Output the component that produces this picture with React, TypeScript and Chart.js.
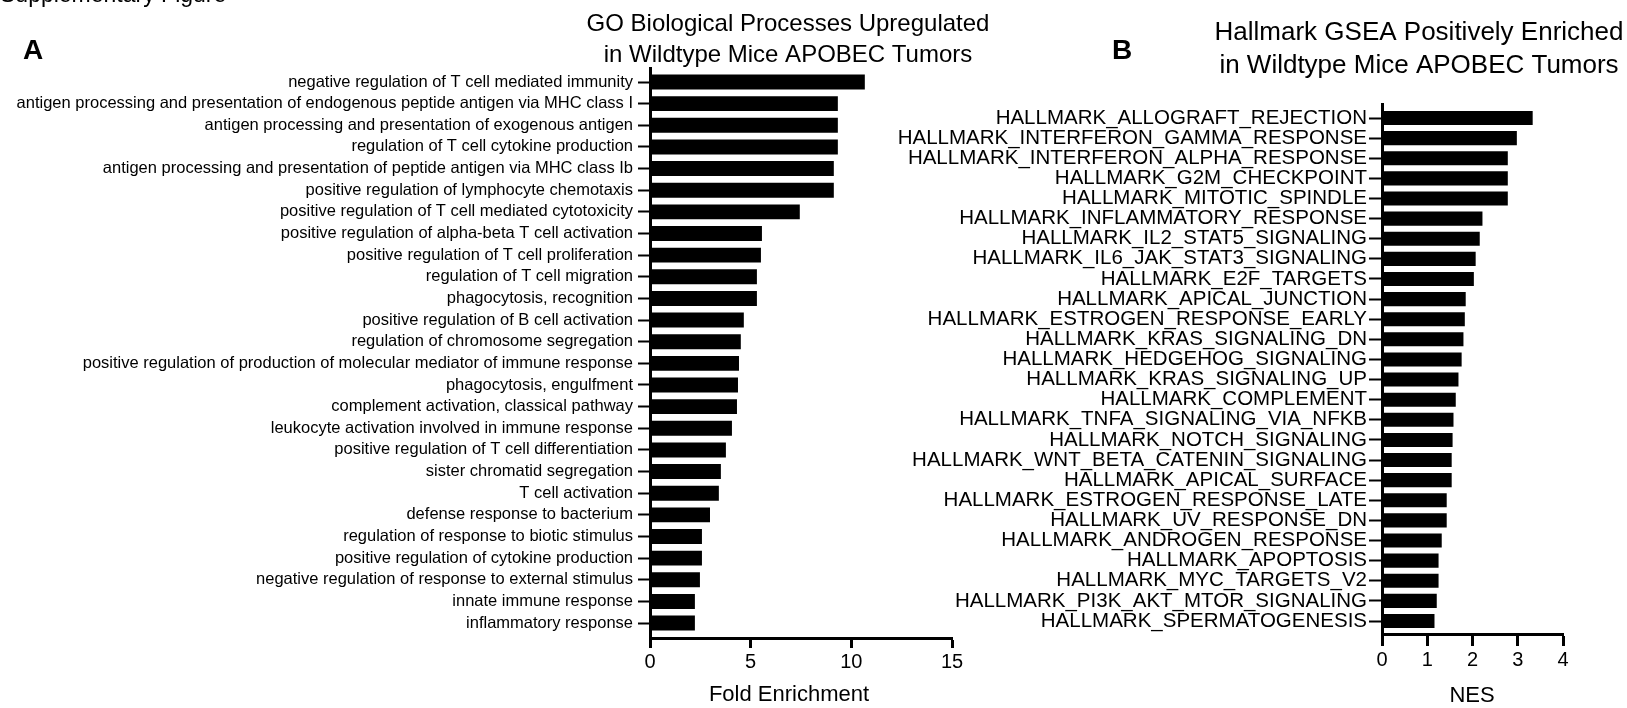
import { useEffect, useRef } from 'react';
import { Chart, registerables } from 'chart.js';

Chart.register(...registerables);

const FONT = "'Liberation Sans', Arial, Helvetica, sans-serif";

const goTerms = [
  'negative regulation of T cell mediated immunity',
  'antigen processing and presentation of endogenous peptide antigen via MHC class I',
  'antigen processing and presentation of exogenous antigen',
  'regulation of T cell cytokine production',
  'antigen processing and presentation of peptide antigen via MHC class Ib',
  'positive regulation of lymphocyte chemotaxis',
  'positive regulation of T cell mediated cytotoxicity',
  'positive regulation of alpha-beta T cell activation',
  'positive regulation of T cell proliferation',
  'regulation of T cell migration',
  'phagocytosis, recognition',
  'positive regulation of B cell activation',
  'regulation of chromosome segregation',
  'positive regulation of production of molecular mediator of immune response',
  'phagocytosis, engulfment',
  'complement activation, classical pathway',
  'leukocyte activation involved in immune response',
  'positive regulation of T cell differentiation',
  'sister chromatid segregation',
  'T cell activation',
  'defense response to bacterium',
  'regulation of response to biotic stimulus',
  'positive regulation of cytokine production',
  'negative regulation of response to external stimulus',
  'innate immune response',
  'inflammatory response',
];

const goFold = [
  10.67, 9.33, 9.33, 9.33, 9.13, 9.13, 7.44, 5.56, 5.51, 5.31, 5.31, 4.66, 4.51,
  4.42, 4.37, 4.32, 4.07, 3.77, 3.52, 3.42, 2.98, 2.58, 2.58, 2.48, 2.23, 2.23,
];

const goTicks = [0, 5, 10, 15];

const hallmarkTerms = [
  'HALLMARK_ALLOGRAFT_REJECTION',
  'HALLMARK_INTERFERON_GAMMA_RESPONSE',
  'HALLMARK_INTERFERON_ALPHA_RESPONSE',
  'HALLMARK_G2M_CHECKPOINT',
  'HALLMARK_MITOTIC_SPINDLE',
  'HALLMARK_INFLAMMATORY_RESPONSE',
  'HALLMARK_IL2_STAT5_SIGNALING',
  'HALLMARK_IL6_JAK_STAT3_SIGNALING',
  'HALLMARK_E2F_TARGETS',
  'HALLMARK_APICAL_JUNCTION',
  'HALLMARK_ESTROGEN_RESPONSE_EARLY',
  'HALLMARK_KRAS_SIGNALING_DN',
  'HALLMARK_HEDGEHOG_SIGNALING',
  'HALLMARK_KRAS_SIGNALING_UP',
  'HALLMARK_COMPLEMENT',
  'HALLMARK_TNFA_SIGNALING_VIA_NFKB',
  'HALLMARK_NOTCH_SIGNALING',
  'HALLMARK_WNT_BETA_CATENIN_SIGNALING',
  'HALLMARK_APICAL_SURFACE',
  'HALLMARK_ESTROGEN_RESPONSE_LATE',
  'HALLMARK_UV_RESPONSE_DN',
  'HALLMARK_ANDROGEN_RESPONSE',
  'HALLMARK_APOPTOSIS',
  'HALLMARK_MYC_TARGETS_V2',
  'HALLMARK_PI3K_AKT_MTOR_SIGNALING',
  'HALLMARK_SPERMATOGENESIS',
];

const hallmarkNES = [
  3.33, 2.98, 2.78, 2.78, 2.78, 2.22, 2.16, 2.07, 2.03, 1.85, 1.83, 1.8, 1.76,
  1.69, 1.63, 1.58, 1.56, 1.54, 1.54, 1.43, 1.43, 1.32, 1.25, 1.25, 1.21, 1.16,
];

const hallmarkTicks = [0, 1, 2, 3, 4];

const leftTitle = ['GO Biological Processes Upregulated', 'in Wildtype Mice APOBEC Tumors'];
const rightTitle = ['Hallmark GSEA Positively Enriched', 'in Wildtype Mice APOBEC Tumors'];

type TextItem = {
  text: string;
  x: number;
  y: number;
  size: number;
  bold?: boolean;
  align?: CanvasTextAlign;
};

function textPlugin(items: TextItem[]) {
  return {
    id: 'extraText',
    afterDraw(chart: any) {
      const ctx = chart.ctx as CanvasRenderingContext2D;
      ctx.save();
      ctx.fillStyle = '#000';
      ctx.textBaseline = 'alphabetic';
      for (const it of items) {
        ctx.font = `${it.bold ? 'bold ' : ''}${it.size}px ${FONT}`;
        ctx.textAlign = it.align || 'center';
        ctx.fillText(it.text, it.x, it.y);
      }
      ctx.restore();
    },
  };
}

type PanelCfg = {
  terms: string[];
  values: number[];
  ticks: number[];
  width: number;
  axisLeft: number;
  axisRight: number;
  top: number;
  bottom: number;
  yMin: number;
  yMax: number;
  barPct: number;
  labelSize: number;
  yTickLen: number;
  yTickPad: number;
  xTickLen: number;
  xTickSize: number;
  xTickPad: number;
  texts: TextItem[];
};

function buildChart(canvas: HTMLCanvasElement, c: PanelCfg) {
  const H = 708;
  const xScaleH = 60;
  return new Chart(canvas, {
    type: 'bar',
    data: {
      datasets: [
        {
          data: c.values.map((v, i) => ({ x: v, y: i })) as any,
          backgroundColor: '#000',
          borderWidth: 0,
          categoryPercentage: 1,
          barPercentage: c.barPct,
        },
      ],
    },
    options: {
      indexAxis: 'y',
      animation: false,
      responsive: false,
      maintainAspectRatio: false,
      devicePixelRatio: 1,
      events: [],
      layout: {
        padding: {
          top: c.top,
          bottom: H - c.bottom - xScaleH,
          left: 0,
          right: c.width - c.axisRight,
        },
      },
      plugins: {
        legend: { display: false },
        tooltip: { enabled: false },
        title: { display: false },
      },
      scales: {
        x: {
          type: 'linear',
          position: 'bottom',
          offset: false,
          min: c.ticks[0],
          max: c.ticks[c.ticks.length - 1],
          afterBuildTicks: (s: any) => {
            s.ticks = c.ticks.map((v) => ({ value: v }));
          },
          ticks: {
            color: '#000',
            font: { family: FONT, size: c.xTickSize },
            padding: c.xTickPad,
            maxRotation: 0,
          },
          grid: {
            offset: false,
            drawOnChartArea: false,
            drawTicks: true,
            tickLength: c.xTickLen,
            tickWidth: 3,
            tickColor: '#000',
          },
          border: { display: true, color: '#000', width: 3 },
          afterFit: (s: any) => {
            s.height = xScaleH;
          },
        },
        y: {
          type: 'linear',
          reverse: true,
          offset: false,
          min: c.yMin,
          max: c.yMax,
          afterBuildTicks: (s: any) => {
            s.ticks = c.terms.map((_, i) => ({ value: i }));
          },
          ticks: {
            autoSkip: false,
            color: '#000',
            font: { family: FONT, size: c.labelSize },
            padding: c.yTickPad,
            callback: (v: any) => c.terms[v as number],
          },
          grid: {
            offset: false,
            drawOnChartArea: false,
            drawTicks: true,
            tickLength: c.yTickLen,
            tickWidth: 2,
            tickColor: '#000',
          },
          border: { display: true, color: '#000', width: 3 },
          afterFit: (s: any) => {
            s.width = c.axisLeft;
          },
        },
      },
    } as any,
    plugins: [textPlugin(c.texts)],
  });
}

const LEFT_X = 0;
const LEFT_W = 1010;
const RIGHT_X = 860;
const RIGHT_W = 767;

export default function App() {
  const leftRef = useRef<HTMLCanvasElement>(null);
  const rightRef = useRef<HTMLCanvasElement>(null);

  useEffect(() => {
    document.body.style.margin = '0';
    const left = buildChart(leftRef.current!, {
      terms: goTerms,
      values: goFold,
      ticks: goTicks,
      width: LEFT_W,
      axisLeft: 650 - LEFT_X,
      axisRight: 952 - LEFT_X,
      top: 68,
      bottom: 638,
      yMin: -0.647,
      yMax: 25.69,
      barPct: 0.69,
      labelSize: 16.5,
      yTickLen: 12,
      yTickPad: 5,
      xTickLen: 10,
      xTickSize: 20,
      xTickPad: 2,
      texts: [
        { text: 'Supplementary Figure', x: 0, y: 2, size: 23, align: 'left' },
        { text: 'A', x: 23, y: 59, size: 28, bold: true, align: 'left' },
        { text: leftTitle[0], x: 788, y: 31, size: 24 },
        { text: leftTitle[1], x: 788, y: 62, size: 24 },
        { text: 'Fold Enrichment', x: 789, y: 701, size: 22 },
      ],
    });
    const right = buildChart(rightRef.current!, {
      terms: hallmarkTerms,
      values: hallmarkNES,
      ticks: hallmarkTicks,
      width: RIGHT_W,
      axisLeft: 1382 - RIGHT_X,
      axisRight: 1563 - RIGHT_X,
      top: 104,
      bottom: 634,
      yMin: -0.696,
      yMax: 25.646,
      barPct: 0.7,
      labelSize: 20.5,
      yTickLen: 13,
      yTickPad: 2,
      xTickLen: 12,
      xTickSize: 20,
      xTickPad: 2,
      texts: [
        { text: 'B', x: 1112 - RIGHT_X, y: 59, size: 28, bold: true, align: 'left' },
        { text: rightTitle[0], x: 1419 - RIGHT_X, y: 40, size: 26 },
        { text: rightTitle[1], x: 1419 - RIGHT_X, y: 73, size: 26 },
        { text: 'NES', x: 1472 - RIGHT_X, y: 702, size: 22 },
      ],
    });
    return () => {
      left.destroy();
      right.destroy();
    };
  }, []);

  return (
    <div
      style={{
        position: 'fixed',
        left: 0,
        top: 0,
        width: 1627,
        height: 708,
        background: '#fff',
        overflow: 'hidden',
      }}
    >
      <canvas
        ref={leftRef}
        width={LEFT_W}
        height={708}
        style={{ position: 'absolute', left: LEFT_X, top: 0, width: LEFT_W, height: 708 }}
      />
      <canvas
        ref={rightRef}
        width={RIGHT_W}
        height={708}
        style={{ position: 'absolute', left: RIGHT_X, top: 0, width: RIGHT_W, height: 708 }}
      />
    </div>
  );
}
